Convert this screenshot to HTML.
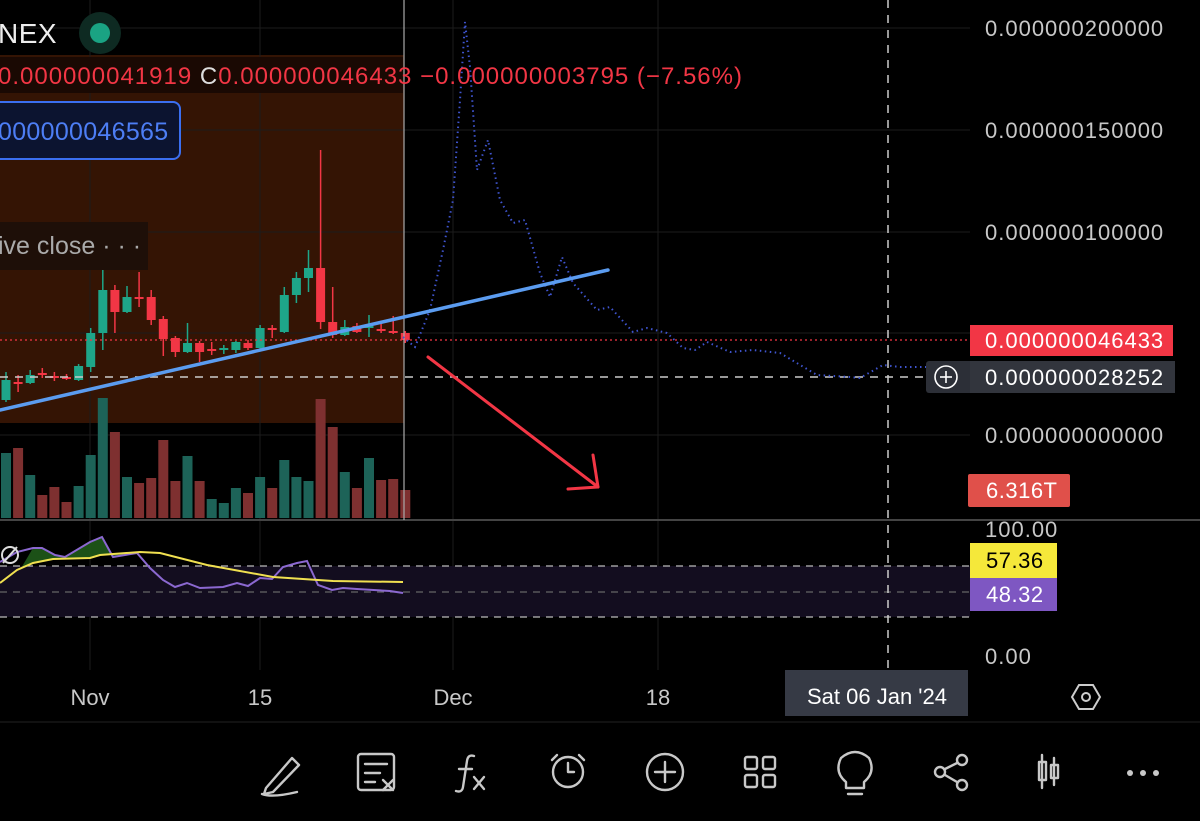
<!DOCTYPE html>
<html><head><meta charset="utf-8"><style>
html,body{margin:0;padding:0;background:#000;}
body{width:1200px;height:821px;overflow:hidden;position:relative;font-family:"Liberation Sans",sans-serif;}
</style></head><body>
<svg width="1200" height="821" style="position:absolute;left:0;top:0" xmlns="http://www.w3.org/2000/svg" font-family="Liberation Sans, sans-serif">
<rect width="1200" height="821" fill="#000"/>
<rect x="0" y="55" width="404" height="368" fill="#341404"/>
<g stroke="#1c1c1c" stroke-width="1">
<line x1="0" y1="28" x2="970" y2="28"/><line x1="0" y1="130" x2="970" y2="130"/><line x1="0" y1="232" x2="970" y2="232"/><line x1="0" y1="333" x2="970" y2="333"/><line x1="0" y1="435" x2="970" y2="435"/>
<line x1="90" y1="0" x2="90" y2="670"/><line x1="260" y1="0" x2="260" y2="670"/><line x1="453" y1="0" x2="453" y2="670"/><line x1="658" y1="0" x2="658" y2="670"/>
</g>
<rect x="0" y="566" width="970" height="51" fill="#130d1f"/>
<g stroke="#bbb" stroke-dasharray="7,6" stroke-width="1.3">
<line x1="0" y1="566" x2="970" y2="566"/><line x1="0" y1="592" x2="970" y2="592" stroke="#666"/><line x1="0" y1="617" x2="970" y2="617"/>
</g>
<line x1="0" y1="520" x2="1200" y2="520" stroke="#444" stroke-width="2"/>
<line x1="0" y1="722" x2="1200" y2="722" stroke="#222" stroke-width="1"/>
<g id="vol"></g>
<g id="cnd"></g>
<line x1="404" y1="0" x2="404" y2="520" stroke="#aaa" stroke-width="1.2"/>
<line x1="0" y1="340" x2="970" y2="340" stroke="#f23645" stroke-width="1.2" stroke-dasharray="2,3"/>
<line x1="0" y1="377" x2="930" y2="377" stroke="#ccc" stroke-width="1.5" stroke-dasharray="8,7"/>
<line x1="888" y1="0" x2="888" y2="668" stroke="#ccc" stroke-width="1.5" stroke-dasharray="8,7"/>
<polyline fill="none" stroke="#3f55d0" stroke-width="2" stroke-dasharray="1.5,3.5" points="403,337 415,347 430,310 443,250 453,200 460,100 465,22 470,67 477,170 488,140 500,200 513,223 525,220 540,273 550,297 562,257 573,283 597,310 610,307 633,332 647,328 667,333 683,348 695,350 707,342 730,352 753,350 780,353 817,375 850,377 860,378 883,365 900,367 930,367"/>
<line x1="0" y1="410" x2="608" y2="270" stroke="#5b9cf0" stroke-width="3.5" stroke-linecap="round"/>
<g stroke="#f23645" stroke-width="3" stroke-linecap="round" fill="none">
<line x1="428" y1="357" x2="598" y2="487"/><line x1="598" y1="487" x2="568" y2="489"/><line x1="598" y1="487" x2="593" y2="455"/>
</g>
<polygon fill="#1f5a1a" opacity="0.9" points="20,570 33,548 42,548 55,555 65,557 90,542 102,537 113,557 130,553 100,555 90,558 53,559 33,563"/>
<polyline fill="none" stroke="#8b68d0" stroke-width="2" points="0,562 17,552 33,548 42,548 55,555 65,557 90,542 102,537 113,557 137,553 150,568 163,580 175,587 187,583 200,588 223,587 237,583 248,586 260,578 272,579 283,567 297,563 307,561 318,585 332,590 343,588 357,589 390,591 403,593"/>
<polyline fill="none" stroke="#f0e050" stroke-width="2" points="0,583 17,570 33,563 53,559 90,558 100,555 140,552 160,553 207,565 273,577 333,581 403,582"/>
<circle cx="10" cy="555" r="8" fill="none" stroke="#ddd" stroke-width="2"/><line x1="3" y1="563" x2="17" y2="547" stroke="#ddd" stroke-width="2"/>
<text x="-2" y="43" fill="#eee" font-size="28" letter-spacing="0.5">NEX</text>
<circle cx="100" cy="33" r="21" fill="#0e2a22"/><circle cx="100" cy="33" r="10" fill="#1aa383"/>
<rect x="0" y="57" width="403" height="36" fill="#1a0903"/>
<text x="-2" y="84" font-size="24" fill="#f23645" letter-spacing="1">0.000000041919 <tspan fill="#ddd">C</tspan>0.000000046433  −0.000000003795 (−7.56%)</text>
<rect x="-10" y="102" width="190" height="57" rx="7" fill="#0c1430" stroke="#3b6ff0" stroke-width="2"/>
<text x="-2" y="140" font-size="25" fill="#4d7ef5" letter-spacing="0.3">000000046565</text>
<rect x="0" y="222" width="148" height="48" fill="#1e0f08"/>
<text x="-2" y="254" font-size="25" fill="#aaa">ive close · · ·</text>
<g font-size="22" fill="#c8c8c8" letter-spacing="1">
<text x="985" y="36">0.000000200000</text><text x="985" y="138">0.000000150000</text><text x="985" y="240">0.000000100000</text><text x="985" y="443">0.000000000000</text>
<text x="985" y="537">100.00</text><text x="985" y="664">0.00</text>
</g>
<rect x="970" y="325" width="203" height="31" fill="#f23645"/><text x="985" y="348" font-size="22" fill="#fff" letter-spacing="1">0.000000046433</text>
<rect x="926" y="361" width="249" height="32" rx="3" fill="#2c2f37"/><rect x="970" y="361" width="205" height="32" fill="#32353d"/>
<text x="985" y="385" font-size="22" fill="#fff" letter-spacing="1">0.000000028252</text>
<circle cx="946" cy="377" r="11" fill="none" stroke="#fff" stroke-width="1.6"/><line x1="940" y1="377" x2="952" y2="377" stroke="#fff" stroke-width="1.6"/><line x1="946" y1="371" x2="946" y2="383" stroke="#fff" stroke-width="1.6"/>
<rect x="968" y="474" width="102" height="33" rx="2" fill="#e0504a"/><text x="986" y="498" font-size="22" fill="#fff" letter-spacing="0.5">6.316T</text>
<rect x="970" y="543" width="87" height="35" fill="#f5e83a"/><text x="986" y="568" font-size="22" fill="#000" letter-spacing="0.5">57.36</text>
<rect x="970" y="578" width="87" height="33" fill="#7e57c2"/><text x="986" y="602" font-size="22" fill="#fff" letter-spacing="0.5">48.32</text>
<g font-size="22" fill="#c8c8c8" text-anchor="middle">
<text x="90" y="705">Nov</text><text x="260" y="705">15</text><text x="453" y="705">Dec</text><text x="658" y="705">18</text>
</g>
<rect x="785" y="670" width="183" height="46" fill="#363a45"/><text x="877" y="704" font-size="22" fill="#fff" text-anchor="middle">Sat 06 Jan '24</text>
<polygon points="1079,685 1093,685 1100,697 1093,709 1079,709 1072,697" fill="none" stroke="#ccc" stroke-width="2"/><circle cx="1086" cy="697" r="4" fill="none" stroke="#ccc" stroke-width="2"/>
<g stroke="#c8c8c8" stroke-width="2.4" fill="none" stroke-linecap="round" stroke-linejoin="round">
<path d="M266,788 L292,758 L299,765 L273,792 L264,794 Z M262,794 q10,4 35,-2"/>
<rect x="358" y="754" width="36" height="36" rx="3"/><line x1="365" y1="764" x2="387" y2="764"/><line x1="365" y1="773" x2="380" y2="773"/><line x1="365" y1="782" x2="375" y2="782"/><line x1="383" y1="780" x2="393" y2="790"/><line x1="393" y1="780" x2="383" y2="790"/>
<path d="M474,756 q-6,-2 -7,5 l-4,26 q-1,6 -7,4"/><line x1="459" y1="769" x2="472" y2="769"/><line x1="474" y1="777" x2="484" y2="789"/><line x1="484" y1="777" x2="474" y2="789"/>
<circle cx="568" cy="772" r="15"/><path d="M568,763 v9 h6"/><line x1="552" y1="760" x2="557" y2="755"/><line x1="584" y1="760" x2="579" y2="755"/>
<circle cx="665" cy="772" r="18"/><line x1="655" y1="772" x2="675" y2="772"/><line x1="665" y1="762" x2="665" y2="782"/>
<rect x="745" y="757" width="12" height="12" rx="2"/><rect x="763" y="757" width="12" height="12" rx="2"/><rect x="745" y="775" width="12" height="12" rx="2"/><rect x="763" y="775" width="12" height="12" rx="2"/>
<path d="M846,782 q-12,-10 -5,-24 q14,-12 28,0 q7,14 -5,24 v6 h-18 z"/><line x1="848" y1="794" x2="862" y2="794"/>
<circle cx="940" cy="772" r="5"/><circle cx="962" cy="760" r="5"/><circle cx="962" cy="785" r="5"/><line x1="945" y1="769" x2="957" y2="763"/><line x1="945" y1="775" x2="957" y2="782"/>
<rect x="1039" y="762" width="7" height="18"/><line x1="1042" y1="755" x2="1042" y2="788"/><rect x="1051" y="765" width="7" height="13"/><line x1="1054" y1="758" x2="1054" y2="785"/>
</g>
<g fill="#c8c8c8"><circle cx="1130" cy="773" r="3"/><circle cx="1143" cy="773" r="3"/><circle cx="1156" cy="773" r="3"/></g>
</svg>
<script>
(function(){
var NS="http://www.w3.org/2000/svg";
var c=[[1,400,380,372,402],[0,382,384,375,392],[1,383,375,370,384],[0,373,375,368,378],[0,376,378,372,381],[0,377,379,374,380],[1,380,366,364,381],[1,367,333,328,372],[1,333,290,258,350],[0,290,312,285,333],[1,312,297,286,313],[0,297,298,272,307],[0,297,320,290,325],[0,319,339,316,356],[0,338,352,336,357],[1,352,343,323,353],[0,343,352,341,362],[0,349,351,342,355],[1,350,348,345,354],[1,350,342,341,353],[0,343,348,340,350],[1,348,328,325,349],[0,328,330,325,338],[1,332,295,287,333],[1,295,278,272,303],[1,278,268,250,292],[0,268,322,150,329],[0,322,335,287,338],[1,335,327,320,336],[0,326,332,323,333],[1,328,326,315,337],[0,329,331,324,333],[0,331,333,316,334],[0,333,340,331,343]];
var v=[[1,453],[0,448],[1,475],[0,495],[0,487],[0,502],[1,486],[1,455],[1,398],[0,432],[1,477],[0,483],[0,478],[0,440],[0,481],[1,456],[0,481],[1,499],[1,503],[1,488],[0,493],[1,477],[0,488],[1,460],[1,477],[1,481],[0,399],[0,427],[1,472],[0,488],[1,458],[0,480],[0,479],[0,490]];
var vg=document.getElementById("vol"),cg=document.getElementById("cnd");
function el(g,t,a){var e=document.createElementNS(NS,t);for(var k in a)e.setAttribute(k,a[k]);g.appendChild(e);}
for(var i=0;i<34;i++){var x=6+12.1*i;
 el(vg,"rect",{x:x-5,y:v[i][1],width:10,height:518-v[i][1],fill:v[i][0]?"#1d6358":"#7e3030"});
 var d=c[i],col=d[0]?"#1ea689":"#f23645";
 el(cg,"line",{x1:x,x2:x,y1:d[3],y2:d[4],stroke:col,"stroke-width":1.5});
 var t=Math.min(d[1],d[2]),h=Math.max(Math.abs(d[1]-d[2]),2);
 el(cg,"rect",{x:x-4.5,y:t,width:9,height:h,fill:col});
}})();
</script>
</body></html>
